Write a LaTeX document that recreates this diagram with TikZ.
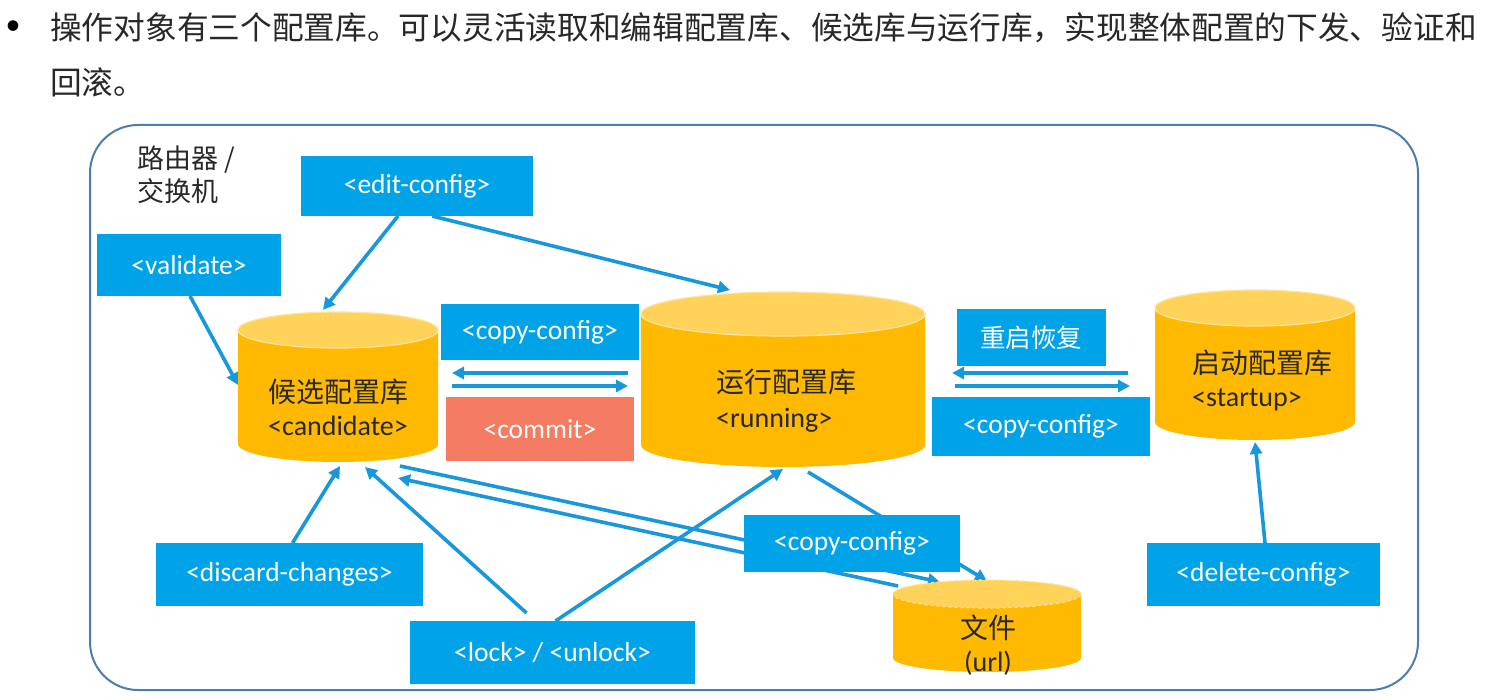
\documentclass[tikz,border=0pt]{standalone}
\usepackage{fontspec}
\setmainfont{Carlito}
\newfontfamily\cjk{Noto Sans CJK SC}
\usetikzlibrary{arrows.meta,backgrounds}
\definecolor{boxblue}{RGB}{0,162,232}
\definecolor{arrowblue}{RGB}{24,152,220}
\definecolor{dbbodyc}{RGB}{255,185,0}
\definecolor{dbtopc}{RGB}{255,210,90}
\definecolor{dbedge}{RGB}{255,228,160}
\definecolor{commitc}{RGB}{244,124,98}
\definecolor{framec}{RGB}{75,125,175}
\definecolor{textc}{RGB}{40,40,40}
\newcommand\mydb[7][solid]{% [top outline] name cx cy w h ry
 \pgfmathsetmacro\dbL{#3-#5/2}\pgfmathsetmacro\dbR{#3+#5/2}%
 \pgfmathsetmacro\dbT{#4-#6/2+#7}\pgfmathsetmacro\dbB{#4+#6/2-#7}%
 \pgfmathsetmacro\dbA{#5/2}%
 \fill[dbbodyc] (\dbL,\dbT) -- (\dbL,\dbB) arc[start angle=180,end angle=360,x radius=\dbA pt,y radius=#7pt] -- (\dbR,\dbT) -- cycle;
 \filldraw[fill=dbtopc,draw=dbedge,line width=1.2pt,#1] (#3,\dbT) ellipse[x radius=\dbA pt,y radius=#7pt];
 \node[dbanchor,minimum width=#5pt,minimum height=#6pt] (#2) at (#3,#4) {};
}
\tikzset{
 dbanchor/.style={draw=none,inner sep=0pt,outer sep=0pt},
 bbox/.style={fill=boxblue,text=white,inner sep=0pt,outer sep=0pt,font=\fontsize{27.5}{32}\selectfont},
 dbtext/.style={text=textc,inner sep=0pt,font=\fontsize{28}{34}\selectfont},
 arr/.style={draw=arrowblue,line width=3.6pt,-{Triangle[length=12pt,width=12pt]}},
}
\begin{document}
\begin{tikzpicture}[x=1pt,y=-1pt]
\useasboundingbox (0,0) rectangle (1504,700);
% header text
\node[text=black,font=\fontsize{30}{30}\selectfont] (bul) at (13,28) {•};
\node[anchor=west,inner sep=0pt,text=textc,font=\cjk\fontsize{31.7}{36}\selectfont] (l1) at (50,28) {操作对象有三个配置库。可以灵活读取和编辑配置库、候选库与运行库，实现整体配置的下发、验证和};
\node[anchor=west,inner sep=0pt,text=textc,font=\cjk\fontsize{31.7}{36}\selectfont] (l2) at (50,82) {回滚。};
% label
\node[anchor=north west,inner sep=0pt,align=left,text=textc,font=\cjk\fontsize{27}{33}\selectfont] (dev) at (137,146) {路由器 /\\交换机};
% cylinders
\mydb{cand}{338}{387}{200}{150}{18}
\mydb{run}{783}{379.5}{284}{175}{22}
\mydb{start}{1255}{365}{200}{150}{18}
\mydb[dashed]{file}{987}{626}{188}{92}{14}
\node[dbtext,align=center] (candt) at (338,407) {{\cjk 候选配置库}\\[-1pt]<candidate>};
\node[dbtext,align=left,anchor=west] (runt) at (716,401) {{\cjk 运行配置库}\\[1pt]<running>};
\node[dbtext,align=left,anchor=west] (startt) at (1192,380) {{\cjk 启动配置库}\\[-1pt]<startup>};
\node[dbtext,align=center] (filet) at (988,645) {{\cjk 文件}\\[-1pt](url)};
% boxes
\node[bbox,minimum width=232pt,minimum height=60pt] (edit) at (417,186) {<edit-config>};
\node[bbox,minimum width=184pt,minimum height=62pt] (valid) at (189,265) {<validate>};
\node[bbox,minimum width=198pt,minimum height=56pt] (cc1) at (540,332) {<copy-config>};
\node[bbox,fill=commitc,minimum width=188pt,minimum height=64pt] (commit) at (540,429) {<commit>};
\node[bbox,minimum width=149pt,minimum height=57pt,font=\cjk\fontsize{25.5}{30}\selectfont] (reboot) at (1031,337.5) {重启恢复};
\node[bbox,minimum width=218pt,minimum height=59pt] (cc2) at (1041,426.5) {<copy-config>};
\node[bbox,minimum width=216pt,minimum height=57pt] (cc3) at (852,543.5) {<copy-config>};
\node[bbox,minimum width=267pt,minimum height=63pt] (discard) at (289.5,574.5) {<discard-changes>};
\node[bbox,minimum width=285pt,minimum height=63pt] (lock) at (552.5,652.5) {<lock> / <unlock>};
\node[bbox,minimum width=233pt,minimum height=63pt] (del) at (1263.5,574.5) {<delete-config>};
\begin{scope}[on background layer]
\fill[white] (0,0) rectangle (1504,700);
\draw[framec,line width=2pt,rounded corners=48pt] (90,125) rectangle (1418,690);
\draw[arr] ([xshift=-19pt]edit.south) -- ([xshift=-15pt,yshift=2pt]cand.north);
\draw[arr] ([xshift=15pt]edit.south) -- ([xshift=-53pt,yshift=2pt]run.north);
\draw[arr] ([xshift=1pt]valid.south) -- ([yshift=2pt]cand.west);
\draw[arr] ([xshift=-13pt,yshift=6.5pt]run.west) -- ([xshift=14pt,yshift=14pt]cand.east);
\draw[arr] ([xshift=14pt,yshift=1pt]cand.east) -- ([xshift=-13pt,yshift=-6.5pt]run.west);
\draw[arr] ([xshift=-27pt,yshift=-8pt]start.west) -- ([xshift=27pt,yshift=6.5pt]run.east);
\draw[arr] ([xshift=30pt,yshift=-6.5pt]run.east) -- ([xshift=-25pt,yshift=-21pt]start.west);
\draw[arr] ([xshift=3pt]discard.north) -- ([xshift=2pt,yshift=-4pt]cand.south);
\draw[arr] ([xshift=-26pt,yshift=8pt]lock.north) -- ([xshift=27pt,yshift=-5pt]cand.south);
\draw[arr] ([xshift=3pt]lock.north) -- ([yshift=-2pt]run.south);
\draw[arr] ([xshift=62pt,yshift=-4pt]cand.south) -- ([xshift=-47pt,yshift=-2pt]file.north);
\draw[arr] ([xshift=-89pt,yshift=-6pt]file.north) -- ([xshift=60pt,yshift=-16pt]cand.south);
\draw[arr] ([xshift=25pt,yshift=-5pt]run.south) -- ([yshift=-1pt]file.north);
\draw[arr] ([xshift=1.5pt]del.north) -- ([yshift=-2pt]start.south);
\end{scope}
\end{tikzpicture}
\end{document}
